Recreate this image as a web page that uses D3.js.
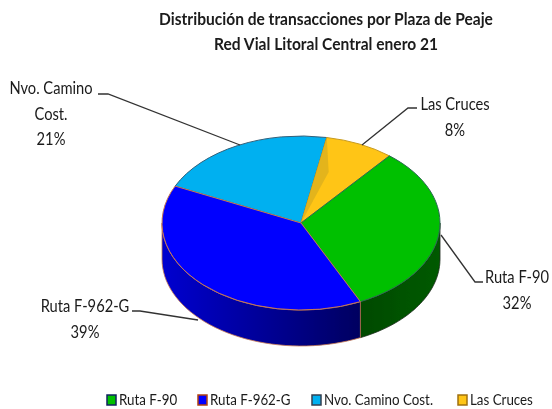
<!DOCTYPE html>
<html>
<head>
<meta charset="utf-8">
<script src="https://cdn.jsdelivr.net/npm/d3@7"></script>
<style>
  html, body { margin: 0; background: #fff; }
  text { font-family: "Lato", "Open Sans", sans-serif; fill: #1a1a1a; }
</style>
</head>
<body>
<div id="chart"></div>
<script>
const titleLines = ['Distribución de transacciones por Plaza de Peaje', 'Red Vial Litoral Central enero 21'];
const categories = ['Ruta F-90', 'Ruta F-962-G', 'Nvo. Camino Cost.', 'Las Cruces'];
const shares = [32, 39, 21, 8];
const labelLines = [['Ruta F-90'], ['Ruta F-962-G'], ['Nvo. Camino', 'Cost.'], ['Las Cruces']];
const topColors = ['#00c000', '#0000ff', '#00b0f0', '#ffc516'];
const edgeColors = ['#2a6a50', '#c87850', '#33607a', '#c79a20'];
const legendEdges = ['#102060', '#b04010', '#333f50', '#a07010'];

const width = 552, height = 409;
const cx = 301, cy = 223, rx = 139, ry = 87, depth = 36;
const startDeg = 39.5;

const svg = d3.select('#chart').append('svg')
  .attr('width', width)
  .attr('height', height);

const defs = svg.append('defs');

// Walls are shaded left to right, darker toward the front edge
const blueWall = defs.append('linearGradient').attr('id', 'wall-blue');
blueWall.append('stop').attr('offset', '0%').attr('stop-color', '#0000d0');
blueWall.append('stop').attr('offset', '100%').attr('stop-color', '#000060');
const greenWall = defs.append('linearGradient').attr('id', 'wall-green');
greenWall.append('stop').attr('offset', '0%').attr('stop-color', '#004a00');
greenWall.append('stop').attr('offset', '100%').attr('stop-color', '#005a00');

defs.append('filter').attr('id', 'soft')
  .append('feGaussianBlur').attr('stdDeviation', 0.45);

const root = svg.append('g').attr('filter', 'url(#soft)');

// No narrow face is installed, so squeeze the glyphs horizontally
function narrowAt(sel, x, y, k) {
  sel.attr('transform', `translate(${x},${y}) scale(${k},1)`);
}

const title = root.append('g');
titleLines.forEach((line, i) => {
  title.append('text')
    .attr('text-anchor', 'middle')
    .attr('font-size', 16.5)
    .attr('font-weight', 700)
    .text(line)
    .call(narrowAt, 326, 25 + i * 25, 0.944);
});

const pie = d3.pie().sort(null)
  .startAngle(startDeg * Math.PI / 180)
  .endAngle(startDeg * Math.PI / 180 + 2 * Math.PI);
const slices = pie(shares);

const px = a => cx + rx * Math.sin(a);
const py = (a, dy) => cy - ry * Math.cos(a) + dy;

// Side wall, only the part facing the viewer
function wallPath(d) {
  const a0 = Math.max(d.startAngle, Math.PI / 2);
  const a1 = Math.min(d.endAngle, 3 * Math.PI / 2);
  if (a1 <= a0) return null;
  const steps = d3.range(0, 41).map(i => a0 + (a1 - a0) * i / 40);
  const top = steps.map(a => [px(a), py(a, 0)]);
  const bottom = steps.slice().reverse().map(a => [px(a), py(a, depth)]);
  return d3.line()(top.concat(bottom)) + 'Z';
}

const wallFill = ['url(#wall-green)', 'url(#wall-blue)'];
root.append('g').selectAll('path')
  .data(slices.slice(0, 2))
  .join('path')
  .attr('d', wallPath)
  .attr('fill', (d, i) => wallFill[i])
  .attr('stroke', (d, i) => i === 0 ? '#1c2a1c' : '#c87850')
  .attr('stroke-width', 0.8);

const arc = d3.arc().innerRadius(0).outerRadius(rx);
const topFace = root.append('g')
  .attr('transform', `translate(${cx},${cy}) scale(1,${ry / rx})`);

// Blue goes last so its orange edge stays on top of its neighbours
const drawOrder = [2, 3, 0, 1];
topFace.selectAll('path.slice')
  .data(drawOrder.map(i => slices[i]))
  .join('path')
  .attr('class', 'slice')
  .attr('d', arc)
  .attr('fill', d => topColors[d.index])
  .attr('stroke', d => edgeColors[d.index])
  .attr('stroke-width', 1)
  .attr('vector-effect', 'non-scaling-stroke');

// Darker facet along the left side of the small slice
const yellowStart = slices[3].startAngle;
const facetAngle = yellowStart + 0.14;
root.append('path')
  .attr('d', d3.line()([
    [cx, cy],
    [px(yellowStart), py(yellowStart, 0)],
    [cx + 0.62 * rx * Math.sin(facetAngle), cy - 0.62 * ry * Math.cos(facetAngle)]
  ]) + 'Z')
  .attr('fill', '#e3b41c');

// Leader lines, drawn from the slice edge out to the label
const leaders = [
  [[441, 235], [475, 282], [483, 282]],
  [[198, 320], [140, 311], [132, 311]],
  [[240, 145], [108, 94], [98, 94]],
  [[362, 145], [408, 108], [417, 108]]
];
root.append('g').selectAll('path')
  .data(leaders)
  .join('path')
  .attr('d', d3.line())
  .attr('fill', 'none')
  .attr('stroke', '#333')
  .attr('stroke-width', 1.3);

// Label centre and first baseline per slice
const labelAnchors = [[517, 283], [85, 312], [51, 94], [455, 110]];
const labels = root.append('g');
categories.forEach((c, i) => {
  const lines = labelLines[i].concat(`${shares[i]}%`);
  lines.forEach((line, j) => {
    labels.append('text')
      .attr('text-anchor', 'middle')
      .attr('font-size', 17)
      .text(line)
      .call(narrowAt, labelAnchors[i][0], labelAnchors[i][1] + j * 25.5, 0.865);
  });
});

const legendX = [107, 198, 312, 458];
const legend = root.append('g');
categories.forEach((c, i) => {
  legend.append('rect')
    .attr('x', legendX[i])
    .attr('y', 395)
    .attr('width', 9)
    .attr('height', 10)
    .attr('fill', topColors[i])
    .attr('stroke', legendEdges[i])
    .attr('stroke-width', 1.5);
  legend.append('text')
    .attr('font-size', 15)
    .text(c)
    .call(narrowAt, legendX[i] + 12, 405, 0.89);
});
</script>
</body>
</html>
